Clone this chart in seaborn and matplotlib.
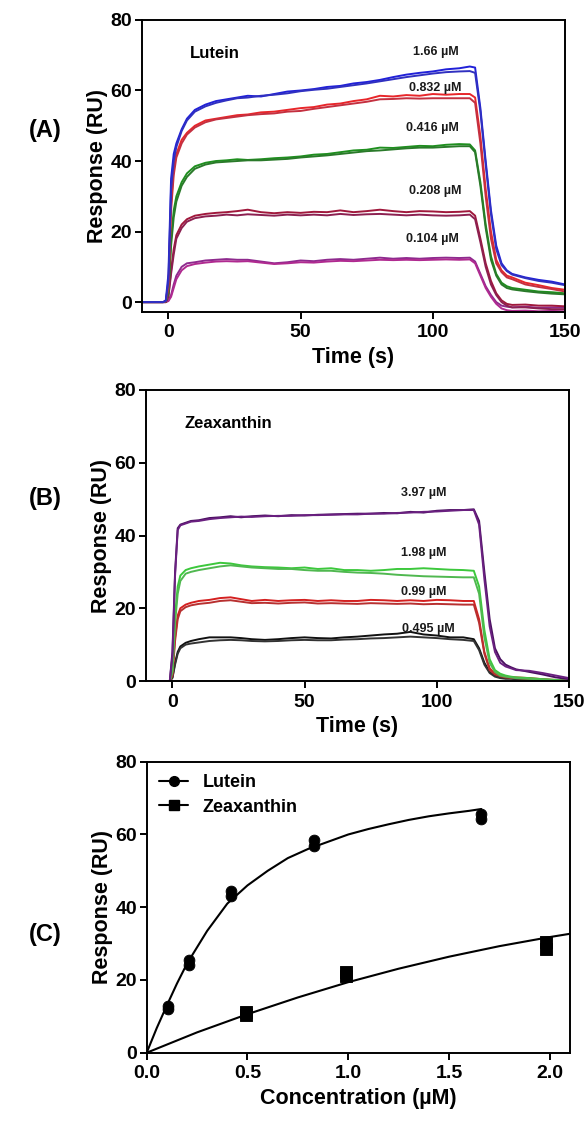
import seaborn as sns
import matplotlib.pyplot as plt
import pandas as pd
from matplotlib.lines import Line2D

# time grid of the read-off sensorgram points (s)
t_read = [-10, -6, -2, -1, 0, 1, 2, 3, 5, 7, 10, 14, 18, 22, 26, 30, 35, 40, 45, 50,
          55, 60, 65, 70, 75, 80, 85, 90, 95, 100, 105, 110, 114, 116, 118, 120, 122, 124, 126, 128,
          130, 135, 140, 145, 150]

# (A) Lutein sensorgrams, two injections per concentration
lut_166_a = [0, 0, 0, 0.5, 8, 35, 42, 45, 49, 52, 54.5, 56, 57, 57.5, 58, 58.5, 58.3, 59, 59.7, 60,
             60.4, 61, 61.3, 62, 62.4, 63, 63.8, 64.5, 65, 65.4, 66, 66.3, 66.8, 66.5, 55, 40, 26, 16, 11, 9,
             8, 7, 6.3, 5.8, 5]
lut_166_b = [0, 0, 0, 0.3, 6, 32, 40, 44, 48.5, 51.5, 54, 55.5, 56.5, 57.2, 57.8, 58, 58.5, 58.8, 59.2, 59.8,
             60.2, 60.5, 61, 61.5, 62, 62.6, 63.2, 63.8, 64.3, 64.8, 65.2, 65.4, 65.5, 65, 54, 39, 25, 15, 10.5, 8.8,
             7.8, 6.8, 6, 5.5, 4.8]
lut_0832_a = [0, 0, 0, 0.3, 5, 28, 38, 42, 46, 48, 50, 51.5, 52, 52.5, 53, 53.2, 53.8, 54, 54.5, 55,
              55.3, 56, 56.3, 57, 57.5, 58.5, 58.3, 58.7, 58.5, 59, 58.8, 59, 59, 58, 47, 32, 20, 12, 9, 7.5,
              7, 5.5, 4.8, 4, 3.5]
lut_0832_b = [0, 0, 0, 0.2, 4, 26, 36, 41, 45, 47.5, 49.5, 51, 51.8, 52.2, 52.6, 53, 53.3, 53.5, 54, 54.2,
              54.8, 55.3, 55.8, 56.3, 56.8, 57.5, 57.6, 57.8, 57.7, 57.8, 57.8, 57.8, 57.8, 56.5, 45, 30, 18, 11, 8.5, 7,
              6.5, 5, 4.3, 3.7, 3]
lut_0416_a = [0, 0, 0, 0.2, 3, 18, 26, 30, 34, 36.5, 38.5, 39.5, 40, 40.2, 40.5, 40.3, 40.5, 40.8, 41, 41.3,
              41.8, 42, 42.5, 43, 43.2, 43.8, 43.7, 44, 44.3, 44.2, 44.6, 44.8, 44.7, 43, 34, 22, 13, 8, 5.5, 4.5,
              4, 3.5, 3, 2.8, 2.5]
lut_0416_b = [0, 0, 0, 0.1, 2.5, 16, 24, 28.5, 33, 35.5, 37.8, 39, 39.6, 39.8, 40, 40.2, 40.2, 40.4, 40.6, 41,
              41.3, 41.6, 42, 42.4, 42.8, 43, 43.3, 43.6, 43.8, 43.8, 44, 44.2, 44.2, 42.5, 33, 21, 12, 7.5, 5, 4,
              3.6, 3.1, 2.7, 2.4, 2.2]
lut_0208_a = [0, 0, 0, 0, 2, 9, 15, 19, 22, 23.5, 24.5, 25, 25.3, 25.5, 25.8, 26.2, 25.5, 25.2, 25.5, 25.3,
              25.6, 25.5, 26, 25.5, 25.8, 26.2, 25.8, 25.5, 25.8, 25.7, 25.5, 25.6, 25.8, 24.5, 18, 11, 6, 2.5, 0.5, -0.5,
              -0.8, -0.7, -1, -1, -1.2]
lut_0208_b = [0, 0, 0, 0, 1.5, 8, 13.5, 18, 21, 22.8, 23.8, 24.3, 24.5, 24.8, 24.6, 24.9, 24.7, 24.5, 24.8, 24.6,
              24.8, 24.6, 25, 24.7, 24.9, 25, 24.8, 24.6, 24.8, 24.6, 24.5, 24.6, 24.8, 23.5, 17, 10, 5, 2, 0, -1,
              -1.5, -1.5, -1.8, -2, -2]
lut_0104_a = [0, 0, 0, 0, 0.5, 2, 5, 7.5, 10, 11, 11.3, 11.8, 12, 12.2, 12, 12, 11.5, 11, 11.3, 11.8,
              11.6, 12, 12.2, 12, 12.3, 12.6, 12.3, 12.5, 12.3, 12.5, 12.6, 12.5, 12.6, 11.5, 8, 4.5, 2, 0, -1, -1.3,
              -1.5, -1.3, -1.6, -1.5, -1.5]
lut_0104_b = [0, 0, 0, 0, 0.3, 1.5, 4, 6.5, 9, 10.2, 10.8, 11.2, 11.5, 11.6, 11.5, 11.6, 11.2, 10.8, 11, 11.3,
              11.2, 11.5, 11.7, 11.6, 11.8, 12, 11.9, 12, 11.9, 12, 12.1, 12, 12.1, 11, 7.5, 4, 1.5, -0.5, -1.8, -2.3,
              -2.5, -2.4, -2.6, -2.5, -2.6]

# (B) Zeaxanthin sensorgrams
zea_397_a = [0, 0, 0, 0, 8, 30, 42, 43, 43.5, 44, 44.2, 44.8, 45, 45.3, 45, 45.3, 45.5, 45.3, 45.6, 45.5,
             45.7, 45.8, 45.9, 46, 46, 46.2, 46.1, 46.5, 46.3, 46.8, 47, 47, 47.2, 44, 30, 17, 9, 6, 4.5, 3.8,
             3.2, 2.5, 1.8, 1, 0.5]
zea_397_b = [0, 0, 0, 0, 7, 29, 41.5, 42.8, 43.3, 43.8, 44, 44.5, 44.8, 45, 45.2, 45.1, 45.3, 45.4, 45.4, 45.6,
             45.6, 45.7, 45.8, 45.8, 46, 46, 46.2, 46.3, 46.5, 46.6, 46.8, 47, 47, 43, 28, 15, 8, 5, 4, 3.5,
             3, 2.8, 2.2, 1.5, 0.8]
zea_198_a = [0, 0, 0, 0, 3, 18, 26, 29, 30.5, 31, 31.5, 32, 32.5, 32.3, 31.8, 31.5, 31.3, 31.2, 31, 31.2,
             30.8, 31, 30.5, 30.5, 30.3, 30.5, 30.8, 30.8, 31, 30.8, 30.6, 30.5, 30.3, 26, 14, 6, 3, 2, 1.5, 1.2,
             1, 0.8, 0.5, 0.3, 0]
zea_198_b = [0, 0, 0, 0, 2.5, 16, 24, 27.5, 29.5, 30, 30.5, 31, 31.5, 31.8, 31.5, 31.2, 31, 30.8, 30.8, 30.5,
             30.3, 30.3, 30, 29.8, 29.7, 29.5, 29.2, 29, 28.8, 28.7, 28.6, 28.5, 28.5, 24, 12, 5, 2.5, 1.5, 1.2, 1,
             0.8, 0.6, 0.4, 0.2, 0]
zea_099_a = [0, 0, 0, 0, 2, 12, 18, 20, 21, 21.5, 22, 22.3, 22.8, 23, 22.5, 22, 22.3, 22, 22.2, 22.3,
             22, 22.2, 22, 22, 22.3, 22.2, 22, 22.2, 22, 22.3, 22.2, 22, 22, 17, 8, 3.5, 2, 1.5, 1.2, 1,
             1, 0.8, 0.5, 0.3, 0]
zea_099_b = [0, 0, 0, 0, 1.5, 11, 17, 19.2, 20.3, 20.8, 21.2, 21.5, 22, 22.2, 21.8, 21.4, 21.5, 21.3, 21.5, 21.6,
             21.3, 21.4, 21.3, 21.2, 21.4, 21.3, 21.2, 21.3, 21.1, 21.2, 21.1, 21, 21, 16, 7.5, 3, 1.8, 1.3, 1, 0.9,
             0.8, 0.6, 0.4, 0.2, 0]
zea_0495_a = [0, 0, 0, 0, 1, 5, 8, 9.5, 10.5, 11, 11.5, 12, 12, 12, 11.8, 11.5, 11.3, 11.5, 11.8, 12,
              11.8, 11.7, 12, 12.2, 12.5, 12.8, 13, 13.5, 12.8, 12.5, 12, 12, 11.5, 9, 5, 2.5, 1.5, 1, 0.8, 0.8,
              0.7, 0.5, 0.3, 0.2, 0]
zea_0495_b = [0, 0, 0, 0, 0.8, 4.5, 7.5, 9, 10, 10.3, 10.6, 11, 11.2, 11.3, 11.2, 11, 10.9, 11, 11.2, 11.3,
              11.2, 11.2, 11.4, 11.5, 11.7, 11.8, 12, 12.2, 12, 11.8, 11.5, 11.3, 11, 8.5, 4.5, 2.2, 1.2, 0.8, 0.6, 0.6,
              0.5, 0.4, 0.2, 0.1, 0]

# (C) steady-state responses and fitted binding curves
lut_conc = [0.104, 0.104, 0.208, 0.208, 0.416, 0.416, 0.832, 0.832, 1.66, 1.66]
lut_resp = [12.0, 12.8, 24.0, 25.5, 43.0, 44.5, 56.8, 58.5, 64.2, 65.5]
zea_conc = [0.495, 0.495, 0.99, 0.99, 1.98, 1.98]
zea_resp = [10.3, 11.2, 21.0, 22.2, 28.5, 30.5]
lut_fit_x = [0, 0.05, 0.1, 0.15, 0.2, 0.3, 0.4, 0.5, 0.6, 0.7, 0.8, 0.9, 1.0, 1.1, 1.2, 1.3, 1.4, 1.5, 1.6, 1.66]
lut_fit_y = [0, 6.8, 13, 19, 24.5, 33.5, 41, 46, 50, 53.5, 56, 58, 60, 61.5, 62.8, 64, 65, 65.8, 66.5, 67]
zea_fit_x = [0, 0.25, 0.5, 0.75, 1.0, 1.25, 1.5, 1.75, 2.0, 2.1]
zea_fit_y = [0, 5.6, 10.6, 15.2, 19.4, 23.1, 26.4, 29.3, 31.8, 32.7]

curves_a = {
    "0.104a": (lut_0104_a, "#8e2a8e"), "0.104b": (lut_0104_b, "#b02a90"),
    "0.208a": (lut_0208_a, "#a0183c"), "0.208b": (lut_0208_b, "#8c2050"),
    "0.416a": (lut_0416_a, "#1f8f1f"), "0.416b": (lut_0416_b, "#2a7a2a"),
    "0.832a": (lut_0832_a, "#e8262a"), "0.832b": (lut_0832_b, "#c43040"),
    "1.66a": (lut_166_a, "#2020d8"), "1.66b": (lut_166_b, "#3030c0"),
}
curves_b = {
    "0.495a": (zea_0495_a, "#111111"), "0.495b": (zea_0495_b, "#333333"),
    "0.99a": (zea_099_a, "#d42020"), "0.99b": (zea_099_b, "#b83030"),
    "1.98a": (zea_198_a, "#3cc83c"), "1.98b": (zea_198_b, "#50b850"),
    "3.97a": (zea_397_a, "#4a1060"), "3.97b": (zea_397_b, "#6a2080"),
}


def long_df(curves):
    rows = []
    for name, (vals, _) in curves.items():
        for t, v in zip(t_read, vals):
            rows.append({"time": t, "response": v, "curve": name})
    return pd.DataFrame(rows)


sns.set_style("ticks")
plt.rcParams["font.family"] = ["Liberation Sans", "DejaVu Sans"]
plt.rcParams["font.weight"] = "bold"
plt.rcParams["axes.labelweight"] = "bold"
plt.rcParams["axes.linewidth"] = 1.4
plt.rcParams["xtick.major.width"] = 1.4
plt.rcParams["ytick.major.width"] = 1.4
plt.rcParams["xtick.major.size"] = 5
plt.rcParams["ytick.major.size"] = 5
plt.rcParams["xtick.color"] = "black"
plt.rcParams["ytick.color"] = "black"
plt.rcParams["text.color"] = "black"
plt.rcParams["axes.labelcolor"] = "black"

fig = plt.figure(figsize=(5.87, 11.21), dpi=100)
axA = fig.add_axes([0.2419, 0.7217, 0.7206, 0.2605])
axB = fig.add_axes([0.2487, 0.3925, 0.7206, 0.2596])
axC = fig.add_axes([0.2499, 0.0609, 0.7211, 0.2596])

tick_fs = 14
label_fs = 15.5

# panel A
dfA = long_df(curves_a)
sns.lineplot(data=dfA, x="time", y="response", hue="curve",
             palette={k: c for k, (_, c) in curves_a.items()},
             estimator=None, sort=False, legend=False, lw=1.4, ax=axA)
axA.set_xlim(-10, 150)
axA.set_ylim(-2.8, 80)
axA.set_xticks([0, 50, 100, 150])
axA.set_yticks([0, 20, 40, 60, 80])
axA.set_xlabel("Time (s)", fontsize=label_fs, labelpad=4)
axA.set_ylabel("Response (RU)", fontsize=label_fs, labelpad=2)
axA.text(8.2, 70.6, "Lutein", fontsize=12, fontweight="bold", va="center")
for lbl, x, y in [("1.66 µM", 101, 70.8), ("0.832 µM", 101, 60.7), ("0.416 µM", 100, 49.4),
                  ("0.208 µM", 101, 31.4), ("0.104 µM", 100, 17.9)]:
    axA.text(x, y, lbl, fontsize=9, fontweight="bold", ha="center", va="center", color="#1a1a1a")

# panel B
dfB = long_df(curves_b)
sns.lineplot(data=dfB, x="time", y="response", hue="curve",
             palette={k: c for k, (_, c) in curves_b.items()},
             estimator=None, sort=False, legend=False, lw=1.4, ax=axB)
axB.set_xlim(-10, 150)
axB.set_ylim(0, 80)
axB.set_xticks([0, 50, 100, 150])
axB.set_yticks([0, 20, 40, 60, 80])
axB.set_xlabel("Time (s)", fontsize=label_fs, labelpad=4)
axB.set_ylabel("Response (RU)", fontsize=label_fs, labelpad=2)
axB.text(4.5, 70.8, "Zeaxanthin", fontsize=12, fontweight="bold", va="center")
for lbl, x, y in [("3.97 µM", 95, 51.6), ("1.98 µM", 95, 35.3), ("0.99 µM", 95, 24.5), ("0.495 µM", 97, 14.4)]:
    axB.text(x, y, lbl, fontsize=9, fontweight="bold", ha="center", va="center", color="#1a1a1a")

# panel C
sns.lineplot(x=lut_fit_x, y=lut_fit_y, color="black", lw=1.5, ax=axC)
sns.lineplot(x=zea_fit_x, y=zea_fit_y, color="black", lw=1.5, ax=axC)
sns.scatterplot(x=lut_conc, y=lut_resp, marker="o", s=60, color="black", edgecolor="black", ax=axC)
sns.scatterplot(x=zea_conc, y=zea_resp, marker="s", s=65, color="black", edgecolor="black", ax=axC)
axC.set_xlim(0, 2.1)
axC.set_ylim(0, 80)
axC.set_xticks([0.0, 0.5, 1.0, 1.5, 2.0])
axC.set_xticklabels(["0.0", "0.5", "1.0", "1.5", "2.0"])
axC.set_yticks([0, 20, 40, 60, 80])
axC.set_xlabel("Concentration (µM)", fontsize=label_fs, labelpad=4)
axC.set_ylabel("Response (RU)", fontsize=label_fs, labelpad=2)
handles = [Line2D([0], [0], color="black", lw=1.5, marker="o", markersize=7),
           Line2D([0], [0], color="black", lw=1.5, marker="s", markersize=7)]
axC.legend(handles, ["Lutein", "Zeaxanthin"], loc="upper left", frameon=False,
           fontsize=13, handlelength=1.6, borderaxespad=0.3, labelspacing=0.4)

for ax in (axA, axB, axC):
    for sp in ax.spines.values():
        sp.set_visible(True)
        sp.set_color("black")
    ax.tick_params(labelsize=tick_fs, direction="out")
    ax.tick_params(axis="y", pad=2)
    ax.tick_params(axis="x", pad=4)
    for lab in ax.get_xticklabels() + ax.get_yticklabels():
        lab.set_fontweight("bold")

for lbl, y in [("(A)", 0.884), ("(B)", 0.555), ("(C)", 0.166)]:
    fig.text(0.077, y, lbl, fontsize=17, fontweight="bold", ha="center", va="center")

fig.savefig("out.png", dpi=100)
